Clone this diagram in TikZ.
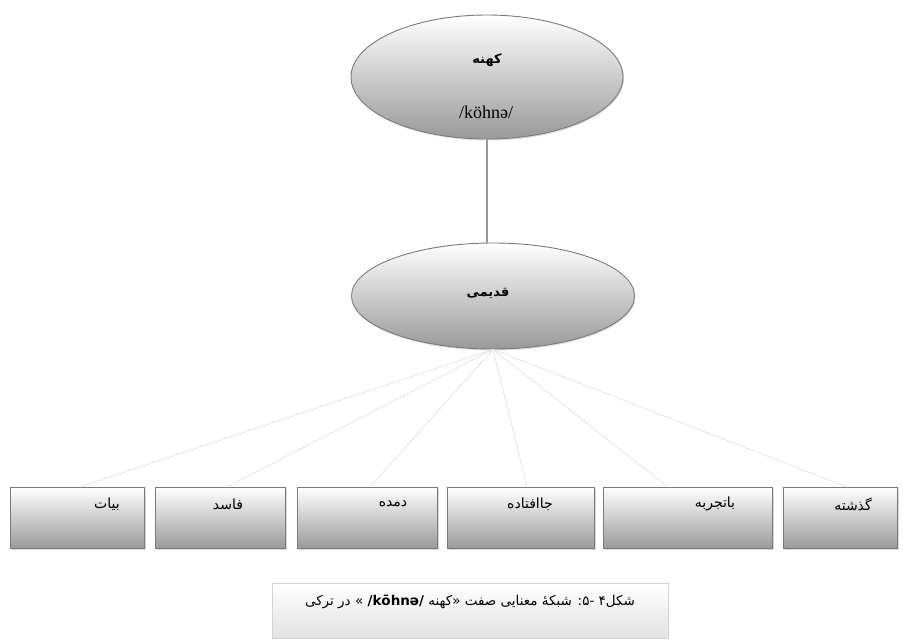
\documentclass[tikz,border=0pt]{standalone}
\usepackage{fontspec}
\setmainfont{Liberation Serif}
\newfontfamily\arabicfont[Script=Arabic]{DejaVu Sans}
\newfontfamily\latsans{DejaVu Sans}
\TeXXeTstate=1
\usetikzlibrary{shapes.geometric,shadows}
\definecolor{edgegray}{HTML}{7A7A7A}
\definecolor{linkgray}{HTML}{E4E4E4}
\definecolor{stemgray}{HTML}{9A9A9A}
\definecolor{capborder}{HTML}{D4D4D4}
\definecolor{capbottom}{HTML}{E2E2E2}
\definecolor{shadegray}{HTML}{999999}
\tikzset{
  oval/.style={ellipse, draw=edgegray, line width=0.9pt, top color=white, bottom color=shadegray,
    drop shadow={shadow xshift=1pt, shadow yshift=-1.5pt, opacity=0.25}, inner sep=0pt},
  wordbox/.style={rectangle, draw=edgegray, line width=1pt, top color=white, bottom color=shadegray,
    drop shadow={shadow xshift=1.5pt, shadow yshift=-1.5pt, opacity=0.3},
    minimum height=61pt, anchor=north west, inner sep=0pt},
  capbox/.style={rectangle, draw=capborder, line width=0.8pt, top color=white, bottom color=capbottom,
    anchor=north west, inner sep=0pt},
  link/.style={draw=linkgray, line width=0.8pt},
  stem/.style={draw=stemgray, line width=1.3pt},
  fatxt/.style={font=\arabicfont\fontsize{14}{16}\selectfont, inner sep=0pt},
  fabold/.style={font=\arabicfont\bfseries\fontsize{13}{15}\selectfont, inner sep=0pt},
}
\begin{document}
\begin{tikzpicture}[x=1pt,y=-1pt]
\useasboundingbox[fill=white] (0,0) rectangle (903,641);

% ellipses
\node[oval, minimum width=272pt, minimum height=124pt] (top) at (487,77) {};
\node[fabold] (toptxt) at (487,60) {\beginR کهنه\endR};
\node[inner sep=0pt, font=\fontsize{18}{20}\selectfont] (topipa) at (486,112) {/köhnə/};

\node[oval, minimum width=283pt, minimum height=106pt] (mid) at (493,296) {};
\node[fabold] (midtxt) at (488,293) {\beginR قدیمی\endR};

\draw[stem] (top.south) -- (top.south |- mid.north);

% boxes
\node[wordbox, minimum width=134pt] (b1) at (10,487) {};
\node[wordbox, minimum width=130pt] (b2) at (155,487) {};
\node[wordbox, minimum width=140pt] (b3) at (297,487) {};
\node[wordbox, minimum width=147pt] (b4) at (447,487) {};
\node[wordbox, minimum width=169pt] (b5) at (603,487) {};
\node[wordbox, minimum width=114pt] (b6) at (783,487) {};

\node[fatxt] (t1) at (107,504) {\beginR بیات\endR};
\node[fatxt] (t2) at (228,504) {\beginR فاسد\endR};
\node[fatxt] (t3) at (393,504) {\beginR دمده\endR};
\node[fatxt] (t4) at (530,504) {\beginR جاافتاده\endR};
\node[fatxt] (t5) at (715,504) {\beginR باتجربه\endR};
\node[fatxt] (t6) at (853,504) {\beginR گذشته\endR};

% links
\coordinate (hub) at (mid.south);
\draw[link] (hub) -- ([xshift=70pt]b1.north west);
\draw[link] (hub) -- ([xshift=72pt]b2.north west);
\draw[link] (hub) -- ([xshift=73pt]b3.north west);
\draw[link] (hub) -- ([xshift=80pt]b4.north west);
\draw[link] (hub) -- ([xshift=65pt]b5.north west);
\draw[link] (hub) -- ([xshift=64pt]b6.north west);

% caption
\node[capbox, minimum width=396pt, minimum height=55pt] (cap) at (272,583) {};
\node[inner sep=0pt, font=\arabicfont\fontsize{13.5}{16}\selectfont] (captxt) at (470,602)
  {\beginR شکل۴ -۵: شبکهٔ معنایی صفت «کهنه \beginL{\latsans\bfseries /kōhnə/}\endL\ » در ترکی\endR};
\end{tikzpicture}
\end{document}
